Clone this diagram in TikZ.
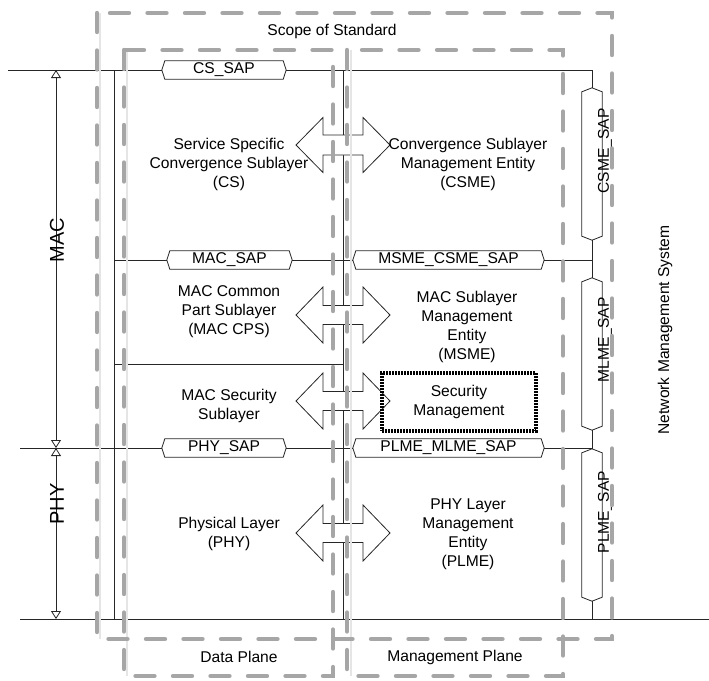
\documentclass[tikz,border=0pt]{standalone}
\usepackage{fontspec}
\setmainfont{Liberation Sans}
\usetikzlibrary{arrows.meta}
\begin{document}
\begin{tikzpicture}[x=1pt,y=-1pt,
  ln/.style={draw=black!85, line width=0.9pt},
  txt/.style={font=\fontsize{15.6}{19}\selectfont, align=center, inner sep=0pt},
  bigtxt/.style={font=\fontsize{20}{24}\selectfont, inner sep=0pt},
  plane/.style={draw=black!35, line width=4.4pt, line cap=round, dash pattern=on 19pt off 18.5pt},
  shadowline/.style={draw=black!10, line width=1.2pt},
  blockarrow/.style={draw=black!85, line width=0.8pt, fill=white},
  hsap/.style={rectangle, fill=white, inner sep=0pt, minimum height=18pt, font=\fontsize{15.6}{19}\selectfont},
  vsap/.style={rectangle, fill=white, inner sep=0pt, minimum width=20pt, minimum height=152pt},
  sapline/.style={draw=black!85, line width=0.8pt},
  dim/.style={draw=black!85, line width=0.8pt, {Triangle[open,length=8pt,width=10pt]}-{Triangle[open,length=8pt,width=10pt]}},
  secbox/.style={draw=black, line width=3.2pt, dash pattern=on 2pt off 1pt, minimum width=154pt, minimum height=58pt, inner sep=0pt, align=center, font=\fontsize{15.6}{19}\selectfont}
]
\useasboundingbox (0,0) rectangle (709,680);

% ---- coordinates of the layer grid
\coordinate (tl) at (8,70);
\coordinate (tj) at (592,70);
\coordinate (lt) at (114,70);
\coordinate (lb) at (114,619);
\coordinate (ct) at (343,70);
\coordinate (cb) at (343,619);
\coordinate (ml) at (114,260);
\coordinate (mr) at (592,260);
\coordinate (sl) at (114,364);
\coordinate (sr) at (343,364);
\coordinate (pl) at (20,448);
\coordinate (pr) at (592,448);
\coordinate (bl) at (20,619);
\coordinate (br) at (709,619);
\coordinate (bj) at (592,619);

% ---- vertical SAP boxes (nodes first for anchors)
\node[vsap] (csmesap) at (592,164) {};
\node[vsap] (mlmesap) at (592,354) {};
\node[vsap] (plmesap) at (592,525) {};

% ---- black grid lines
\draw[ln] (tl) -- (tj) -- (csmesap.north);
\draw[ln] (csmesap.south) -- (mlmesap.north);
\draw[ln] (mlmesap.south) -- (plmesap.north);
\draw[ln] (plmesap.south) -- (bj);
\draw[ln] (ml) -- (mr);
\draw[ln] (sl) -- (sr);
\draw[ln] (pl) -- (pr);
\draw[ln] (bl) -- (br);
\draw[ln] (lt) -- (lb);
\draw[ln] (ct) -- (cb);

% redraw vertical SAP fills over lines
\node[vsap] at (csmesap) {};
\node[vsap] at (mlmesap) {};
\node[vsap] at (plmesap) {};
\foreach \n in {csmesap,mlmesap,plmesap}
  \draw[sapline] ([yshift=-4pt]\n.north west) -- (\n.north) -- ([yshift=-4pt]\n.north east)
    -- ([yshift=4pt]\n.south east) -- (\n.south) -- ([yshift=4pt]\n.south west) -- cycle;

% ---- horizontal SAP boxes
\node[hsap, minimum width=124pt] (cssap) at (224,70) {CS\_SAP};
\node[hsap, minimum width=125pt] (macsap) at (229.5,260) {MAC\_SAP};
\node[hsap, minimum width=124pt] (physap) at (224,448) {PHY\_SAP};
\node[hsap, minimum width=191pt] (msmesap) at (448.5,260) {MSME\_CSME\_SAP};
\node[hsap, minimum width=191pt] (plmemlmesap) at (448.5,448) {PLME\_MLME\_SAP};
\foreach \n in {cssap,macsap,physap,msmesap,plmemlmesap}
  \draw[sapline] ([xshift=3pt]\n.north west) -- ([xshift=-3pt]\n.north east) -- (\n.east)
    -- ([xshift=-3pt]\n.south east) -- ([xshift=3pt]\n.south west) -- (\n.west) -- cycle;

% ---- double block arrows
\foreach \y/\h/\s in {145/27.5/10, 315/28/9.5, 401/28/9.5, 533/28/9.5}
  \draw[blockarrow] (296,\y) -- (323,\y-\h) -- (323,\y-\s) -- (363,\y-\s) -- (363,\y-\h)
    -- (390,\y) -- (363,\y+\h) -- (363,\y+\s) -- (323,\y+\s) -- (323,\y+\h) -- cycle;

% ---- dimension arrows MAC / PHY
\coordinate (dmt) at (56,70);
\coordinate (dmm) at (56,448);
\coordinate (dmb) at (56,619);
\draw[dim] (dmt) -- (dmm);
\draw[dim] (dmm) -- (dmb);
\node[bigtxt, rotate=90] (maclbl) at (57,240) {MAC};
\node[bigtxt, rotate=90] (phylbl) at (57,504) {PHY};

% ---- texts
\node[txt] (scope) at (332,31) {Scope of Standard};
\node[txt] (cs) at (229,164) {Service Specific\\Convergence Sublayer\\(CS)};
\node[txt] (csme) at (468,164) {Convergence Sublayer\\Management Entity\\(CSME)};
\node[txt] (cps) at (229,312) {MAC Common\\Part Sublayer\\(MAC CPS)};
\node[txt] (msme) at (467,326.5) {MAC Sublayer\\Management\\Entity\\(MSME)};
\node[txt] (secsub) at (229,406) {MAC Security\\Sublayer};
\node[secbox] (secmgmt) at (459,402) {Security\\Management};
\node[txt] (phyl) at (229,534) {Physical Layer\\(PHY)};
\node[txt] (plme) at (468,534) {PHY Layer\\Management\\Entity\\(PLME)};
\node[txt] (dataplane) at (239,657) {Data Plane};
\node[txt] (mgmtplane) at (455,657) {Management Plane};
\node[txt, rotate=90] (nms) at (665,330) {Network Management System};
\node[txt, rotate=90] (csmelbl) at (605,151) {CSME\_SAP};
\node[txt, rotate=90] (mlmelbl) at (605,340) {MLME\_SAP};
\node[txt, rotate=90] (plmelbl) at (605,512) {PLME\_SAP};

% ---- gray dashed planes
\draw[shadowline] (100,13) -- (100,639);
\draw[shadowline] (127,50) -- (127,676);
\draw[shadowline] (351,50) -- (351,676);
\draw[plane] (97,13) rectangle (612,639);
\draw[plane] (124,50) rectangle (333,676);
\draw[plane] (347,50) rectangle (563,676);
\end{tikzpicture}
\end{document}
